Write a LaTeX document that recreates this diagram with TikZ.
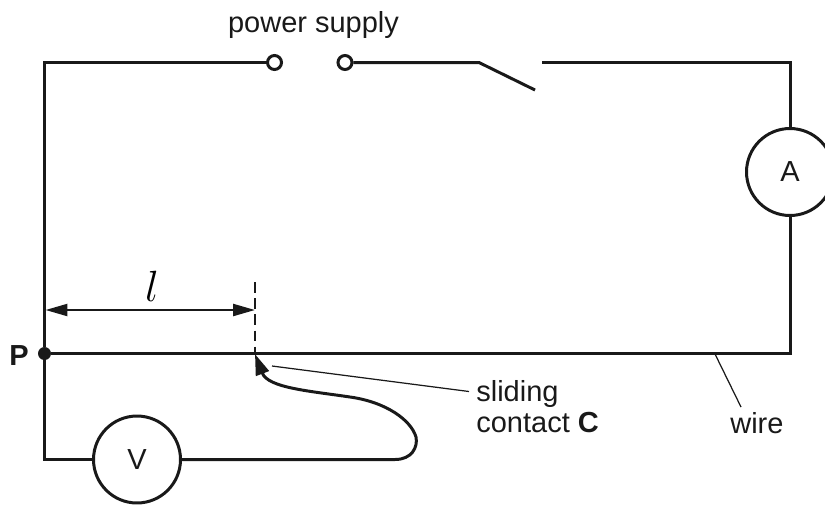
\documentclass[tikz,border=0pt]{standalone}
\usepackage{fontspec}
\setmainfont{Liberation Sans}
\usetikzlibrary{arrows.meta}
\tikzset{
  x=0.02cm,y=-0.02cm,
  wireline/.style={line width=1.7pt,draw=black!90,line join=miter},
  thinline/.style={line width=0.7pt,draw=black!90},
  meter/.style={circle,draw=black!90,line width=1.7pt,minimum size=1.74cm,inner sep=0pt,fill=white},
  terminal/.style={circle,draw=black!90,line width=1.7pt,minimum size=0.28cm,inner sep=0pt,fill=white},
  lab/.style={font=\fontsize{16.5}{19.5}\selectfont,text=black!90,inner sep=0pt},
}
\begin{document}
\begin{tikzpicture}
\useasboundingbox (0,0) rectangle (825,505);
\coordinate (TL) at (44.5,62.5);
\coordinate (TR) at (790,62.5);
\coordinate (BL) at (44.5,459.5);
\coordinate (WR) at (790,353.5);
\coordinate (SwA) at (479,62.5);
\coordinate (SwB) at (535,90);
\coordinate (SwC) at (542,62.5);
\coordinate (Tip) at (255,354);
\coordinate (DashTop) at (255,282);
\coordinate (DimL) at (45.5,310);
\coordinate (DimR) at (255,310);
\coordinate (CurveStart) at (395,459.5);
\coordinate (LeadA) at (272,366);
\coordinate (LeadB) at (469,391.5);
\coordinate (WireA) at (715,354);
\coordinate (WireB) at (741,407);
\node[terminal] (T1) at (274.5,62.5) {};
\node[terminal] (T2) at (345,62.5) {};
\node[meter] (A) at (790,172) {};
\node[meter] (V) at (137,459.5) {};
\node[lab] at (A.center) {A};
\node[lab] at (V.center) {V};
\node[circle,fill=black!90,minimum size=0.26cm,inner sep=0pt] (P) at (44.5,353.5) {};
\node[lab,anchor=base] (ps) at (313.5,32) {power supply};
\node[lab,anchor=base,font=\fontsize{16.5}{19.5}\bfseries] (Pl) at (19,365) {P};
\node[lab,anchor=base west,align=left] (sc1) at (476,401) {sliding};
\node[lab,anchor=base west] (sc2) at (476,432) {contact \textbf{C}};
\node[lab,anchor=base west] (wl) at (730,433) {wire};
\node[anchor=base,inner sep=0pt,font=\fontsize{24}{28}\selectfont] (ll) at (152,301) {$l$};
\draw[wireline] (T1) -- (TL) -- (P) -- (BL) -- (V);
\draw[wireline] (T2) -- (SwA) -- (SwB);
\draw[wireline] (SwC) -- (TR) -- (A);
\draw[wireline] (A) -- (WR) -- (P);
\draw[wireline,-{Triangle[length=0.42cm,width=0.27cm]}]
  (V) -- (CurveStart) .. controls (412,459.5) and (418,447) .. (416,437)
  .. controls (411,420) and (386,402) .. (350,397)
  .. controls (310,391) and (268,388) .. (Tip);
\draw[line width=1.5pt,draw=black!90,dash pattern=on 6pt off 3.2pt] (DashTop) -- (Tip);
\draw[line width=1.3pt,draw=black!90,{Triangle[length=0.44cm,width=0.24cm]}-{Triangle[length=0.44cm,width=0.24cm]}] (DimL) -- (DimR);
\draw[thinline] (LeadA) -- (LeadB);
\draw[thinline] (WireA) -- (WireB);
\end{tikzpicture}
\end{document}
